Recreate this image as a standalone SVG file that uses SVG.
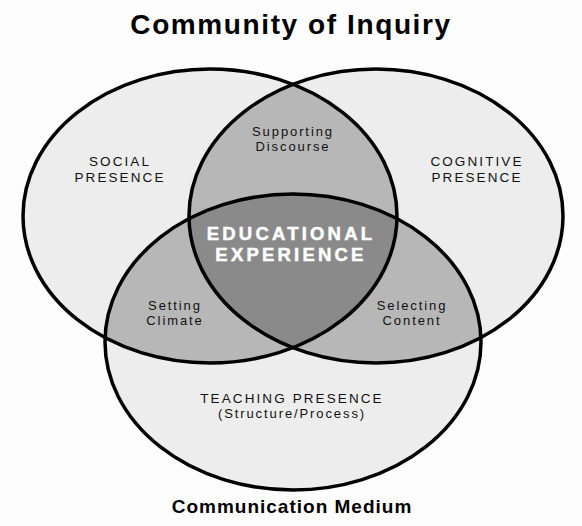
<svg xmlns="http://www.w3.org/2000/svg" width="582" height="526" viewBox="0 0 582 526">
<style>
.bg{fill:#fdfdfd}
.outer{fill:#ededed}
.pair{fill:#b7b7b7}
.core{fill:#8a8a8a}
.ring{fill:none;stroke:#000;stroke-width:3.5}
.lbl{font-family:"Liberation Sans",Arial,sans-serif;font-size:13.5px;fill:#111;text-anchor:middle;letter-spacing:2.1px}
.sub{font-family:"Liberation Sans",Arial,sans-serif;font-size:13px;fill:#111;text-anchor:middle;letter-spacing:1.9px}
.title{font-family:"Liberation Sans",Arial,sans-serif;font-weight:bold;fill:#000;text-anchor:middle}
.core-t{font-family:"Liberation Sans",Arial,sans-serif;font-weight:bold;font-size:18.5px;fill:#fff;stroke:#fff;stroke-width:0.5;text-anchor:middle;letter-spacing:3.2px}
</style>
<defs>
<ellipse id="eL" cx="210" cy="216" rx="187" ry="147"/>
<ellipse id="eR" cx="376" cy="216" rx="187" ry="147"/>
<ellipse id="eB" cx="293" cy="342" rx="188" ry="148"/>
<clipPath id="cL"><use href="#eL"/></clipPath>
<clipPath id="cR"><use href="#eR"/></clipPath>
<clipPath id="cB"><use href="#eB"/></clipPath>
</defs>
<rect class="bg" x="0" y="0" width="582" height="526"/>
<text class="title" x="291" y="34" font-size="28" letter-spacing="1.6">Community of Inquiry</text>
<g id="fills">
<use href="#eL" class="outer"/>
<use href="#eR" class="outer"/>
<use href="#eB" class="outer"/>
<use href="#eR" class="pair" clip-path="url(#cL)"/>
<use href="#eB" class="pair" clip-path="url(#cL)"/>
<use href="#eB" class="pair" clip-path="url(#cR)"/>
<g clip-path="url(#cR)"><use href="#eB" class="core" clip-path="url(#cL)"/></g>
</g>
<g id="social-presence">
<use href="#eL" class="ring"/>
<text class="lbl" x="120" y="166">SOCIAL</text>
<text class="lbl" x="120" y="182">PRESENCE</text>
</g>
<g id="cognitive-presence">
<use href="#eR" class="ring"/>
<text class="lbl" x="477" y="166">COGNITIVE</text>
<text class="lbl" x="477" y="182">PRESENCE</text>
</g>
<g id="teaching-presence">
<use href="#eB" class="ring"/>
<text class="lbl" x="292" y="403" letter-spacing="2.8">TEACHING PRESENCE</text>
<text class="sub" x="292" y="418" letter-spacing="1.3">(Structure/Process)</text>
</g>
<g id="supporting-discourse">
<text class="sub" x="293" y="136">Supporting</text>
<text class="sub" x="293" y="151">Discourse</text>
</g>
<g id="setting-climate">
<text class="sub" x="175" y="310">Setting</text>
<text class="sub" x="175" y="325">Climate</text>
</g>
<g id="selecting-content">
<text class="sub" x="412" y="310">Selecting</text>
<text class="sub" x="412" y="325">Content</text>
</g>
<g id="educational-experience">
<text class="core-t" x="291" y="240">EDUCATIONAL</text>
<text class="core-t" x="291" y="261">EXPERIENCE</text>
</g>
<text class="title" x="292" y="513" font-size="19" letter-spacing="1">Communication Medium</text>
</svg>
